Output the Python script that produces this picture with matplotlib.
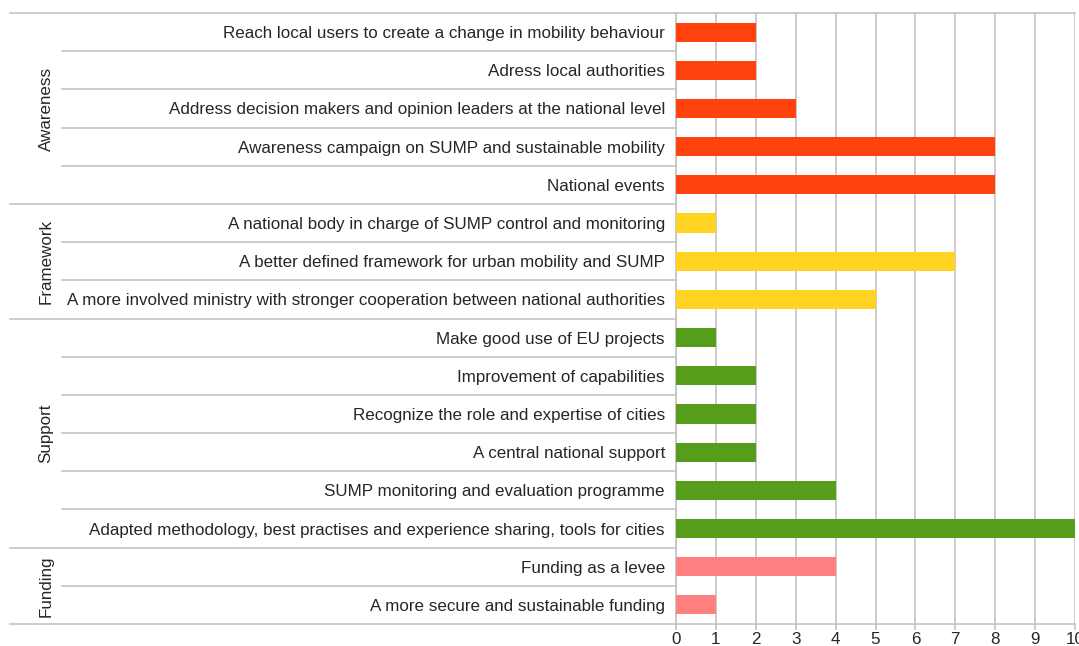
import matplotlib
matplotlib.use("Agg")
import matplotlib.pyplot as plt

plt.rcParams['font.family'] = ['Liberation Sans', 'DejaVu Sans']

groups = ["Awareness", "Framework", "Support", "Funding"]
group_sizes = [5, 3, 6, 2]
categories = [
    "Reach local users to create a change in mobility behaviour",
    "Adress local authorities",
    "Address decision makers and opinion leaders at the national level",
    "Awareness campaign on SUMP and sustainable mobility",
    "National events",
    "A national body in charge of SUMP control and monitoring",
    "A better defined framework for urban mobility and SUMP",
    "A more involved ministry with stronger cooperation between national authorities",
    "Make good use of EU projects",
    "Improvement of capabilities",
    "Recognize the role and expertise of cities",
    "A central national support",
    "SUMP monitoring and evaluation programme",
    "Adapted methodology, best practises and experience sharing, tools for cities",
    "Funding as a levee",
    "A more secure and sustainable funding",
]
values = [2, 2, 3, 8, 8, 1, 7, 5, 1, 2, 2, 2, 4, 10, 4, 1]
group_colors = ["#FF420E", "#FFD320", "#579D1C", "#FF8080"]
xticks = list(range(0, 11))

FS = 12.25
W, H = 1079, 646
fig = plt.figure(figsize=(W / 100, H / 100), dpi=100)
x0, x1, y0, y1 = 676, 1075, 13, 624
ax = fig.add_axes([x0 / W, 1 - y1 / H, (x1 - x0) / W, (y1 - y0) / H])

colors = []
for g, n in enumerate(group_sizes):
    colors += [group_colors[g]] * n

n = len(categories)
ypos = list(range(n))
ax.barh(ypos, values, height=0.5, color=colors, zorder=3)
ax.set_ylim(n - 0.5, -0.5)
ax.set_xlim(0, 10)
ax.set_xticks(xticks)
ax.set_xticklabels([str(t) for t in xticks])
ax.set_yticks(ypos)
ax.set_yticklabels(categories)
grid_c = "#c4c4c4"
txt_c = "#262626"
ax.grid(axis='x', color=grid_c, linewidth=1.2, zorder=0)
ax.tick_params(axis='y', length=0, pad=8, labelsize=FS, labelcolor=txt_c)
ax.tick_params(axis='x', length=4, width=1.2, color=grid_c, pad=2, labelsize=FS, labelcolor=txt_c)
for s in ['top', 'right']:
    ax.spines[s].set_visible(False)
for s in ['left', 'bottom']:
    ax.spines[s].set_color(grid_c)
    ax.spines[s].set_linewidth(1.2)

trans = ax.get_yaxis_transform()
px2ax = lambda px: (px - x0) / (x1 - x0)
ax.plot([px2ax(10), 1], [-0.5, -0.5], transform=trans, color=grid_c, lw=1.2, clip_on=False, zorder=1)

boundaries = []
start = 0
for size in group_sizes:
    boundaries.append((start, start + size))
    start += size

group_edges = set(b[1] for b in boundaries)
for i in range(1, n + 1):
    y = i - 0.5
    xl = px2ax(10) if i in group_edges else px2ax(62)
    ax.plot([xl, 0], [y, y], transform=trans, color=grid_c, lw=1.2, clip_on=False, zorder=1)

for g, (a, b) in enumerate(boundaries):
    yc = (a + b - 1) / 2
    ax.text(px2ax(46), yc, groups[g], transform=trans, rotation=90,
            ha='center', va='center', fontsize=FS, color=txt_c)

fig.savefig("out.png", dpi=100)
